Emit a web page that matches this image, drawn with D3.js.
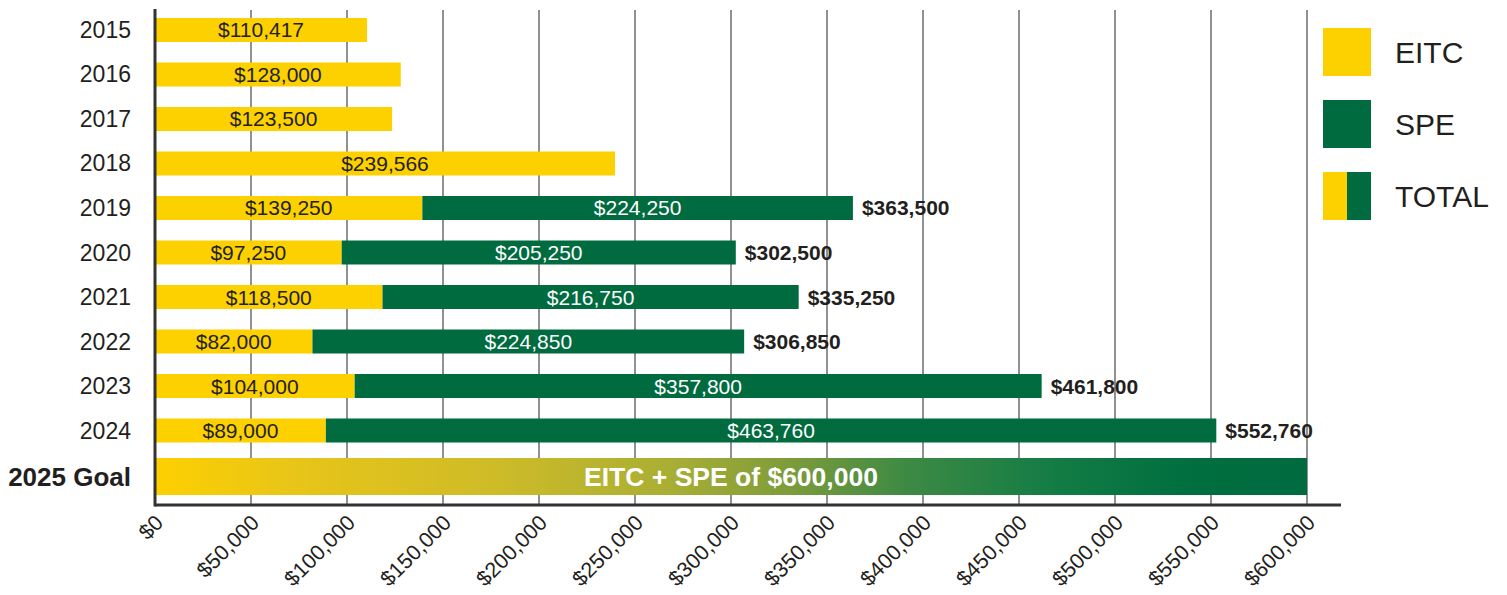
<!DOCTYPE html>
<html>
<head>
<meta charset="utf-8">
<script src="https://cdn.jsdelivr.net/npm/d3@7"></script>
<style>
  body { margin: 0; background: #fff; }
  svg { font-family: "Liberation Sans", Arial, Helvetica, sans-serif; }
</style>
</head>
<body>
<svg id="chart" width="1507" height="595"></svg>
<script>
// data
const years = ['2015', '2016', '2017', '2018', '2019', '2020', '2021', '2022', '2023', '2024'];
const eitc = [110417, 128000, 123500, 239566, 139250, 97250, 118500, 82000, 104000, 89000];
const spe = [0, 0, 0, 0, 224250, 205250, 216750, 224850, 357800, 463760];
const goalLabel = '2025 Goal';
const goalValue = 600000;
const goalText = 'EITC + SPE of $600,000';
const tickValues = [0, 50000, 100000, 150000, 200000, 250000, 300000, 350000, 400000, 450000, 500000, 550000, 600000];
const legendItems = ['EITC', 'SPE', 'TOTAL'];

const YELLOW = '#FDD000';
const GREEN = '#006B3F';
const INK = '#231f20';

const svg = d3.select('#chart');
const fmt = (v) => '$' + d3.format(',')(v);

const x = d3.scaleLinear().domain([0, 600000]).range([155, 1307]);
// 10 bars, 24px tall, 44.5px apart
const y = d3.scaleBand().domain(years).range([18, 442.5]).paddingInner(0.4607).paddingOuter(0);

const rows = years.map((yr, i) => ({ year: yr, eitc: eitc[i], spe: spe[i], total: eitc[i] + spe[i] }));

// gradient for goal bar
const defs = svg.append('defs');
const grad = defs.append('linearGradient').attr('id', 'goalGrad').attr('x1', '0%').attr('x2', '100%');
[
  [0, '#FDD000'],
  [0.12, '#E8C518'],
  [0.3, '#CDBB28'],
  [0.45, '#A8AE34'],
  [0.55, '#7E9C3A'],
  [0.65, '#3E8A44'],
  [0.78, '#137C45'],
  [0.9, '#006E3F'],
  [1, '#006B3F']
].forEach(([o, c]) => grad.append('stop').attr('offset', o).attr('stop-color', c));

// gridlines
svg.append('g')
  .selectAll('line')
  .data(tickValues.slice(1))
  .enter()
  .append('line')
  .attr('x1', (d) => x(d))
  .attr('x2', (d) => x(d))
  .attr('y1', 10)
  .attr('y2', 505)
  .attr('stroke', '#555')
  .attr('stroke-width', 1.3);

const bars = svg.append('g');

bars.selectAll('rect.eitc')
  .data(rows)
  .enter()
  .append('rect')
  .attr('class', 'eitc')
  .attr('x', x(0))
  .attr('y', (d) => y(d.year))
  .attr('width', (d) => x(d.eitc) - x(0))
  .attr('height', y.bandwidth())
  .attr('fill', YELLOW);

bars.selectAll('rect.spe')
  .data(rows.filter((d) => d.spe > 0))
  .enter()
  .append('rect')
  .attr('class', 'spe')
  .attr('x', (d) => x(d.eitc))
  .attr('y', (d) => y(d.year))
  .attr('width', (d) => x(d.total) - x(d.eitc))
  .attr('height', y.bandwidth())
  .attr('fill', GREEN);

// goal bar
const goalY = 458;
const goalH = 37;
bars.append('rect')
  .attr('x', x(0))
  .attr('y', goalY)
  .attr('width', x(goalValue) - x(0))
  .attr('height', goalH)
  .attr('fill', 'url(#goalGrad)');

bars.append('text')
  .attr('x', (x(0) + x(goalValue)) / 2)
  .attr('y', goalY + goalH / 2 + 9)
  .attr('text-anchor', 'middle')
  .attr('fill', '#fff')
  .attr('font-size', 26.5)
  .attr('font-weight', 'bold')
  .text(goalText);

// value labels
const labels = svg.append('g').attr('font-size', 21);
const midY = (d) => y(d.year) + y.bandwidth() / 2 + 7.5;

labels.selectAll('text.el')
  .data(rows)
  .enter()
  .append('text')
  .attr('x', (d) => (x(0) + x(d.eitc)) / 2)
  .attr('y', midY)
  .attr('text-anchor', 'middle')
  .attr('fill', INK)
  .text((d) => fmt(d.eitc));

labels.selectAll('text.sl')
  .data(rows.filter((d) => d.spe > 0))
  .enter()
  .append('text')
  .attr('x', (d) => (x(d.eitc) + x(d.total)) / 2)
  .attr('y', midY)
  .attr('text-anchor', 'middle')
  .attr('fill', '#fff')
  .text((d) => fmt(d.spe));

labels.selectAll('text.tl')
  .data(rows.filter((d) => d.spe > 0))
  .enter()
  .append('text')
  .attr('x', (d) => x(d.total) + 9)
  .attr('y', midY)
  .attr('font-weight', 'bold')
  .attr('fill', INK)
  .text((d) => fmt(d.total));

// year labels
svg.append('g')
  .selectAll('text')
  .data(years)
  .enter()
  .append('text')
  .attr('x', 131)
  .attr('y', (d) => y(d) + y.bandwidth() / 2 + 8)
  .attr('text-anchor', 'end')
  .attr('font-size', 23)
  .attr('fill', INK)
  .text((d) => d);

svg.append('text')
  .attr('x', 131)
  .attr('y', goalY + goalH / 2 + 9)
  .attr('text-anchor', 'end')
  .attr('font-size', 26)
  .attr('font-weight', 'bold')
  .attr('fill', INK)
  .text(goalLabel);

// axes
const xAxis = svg.append('g')
  .attr('transform', 'translate(0,505)')
  .call(d3.axisBottom(x).tickValues(tickValues).tickSize(0).tickFormat((d) => fmt(d)));
xAxis.select('.domain').remove();
xAxis.selectAll('text')
  .attr('font-size', 21.5)
  .attr('font-family', '"Liberation Sans", Arial, sans-serif')
  .attr('fill', INK)
  .attr('text-anchor', 'end')
  .attr('dy', null)
  .attr('y', 0)
  .attr('transform', 'translate(9,19) rotate(-45)');

svg.append('line')
  .attr('x1', x(0)).attr('x2', 1341)
  .attr('y1', 505).attr('y2', 505)
  .attr('stroke', '#333').attr('stroke-width', 3);
svg.append('line')
  .attr('x1', x(0)).attr('x2', x(0))
  .attr('y1', 9).attr('y2', 506.5)
  .attr('stroke', '#333').attr('stroke-width', 3);

// legend
const legend = svg.append('g').attr('transform', 'translate(1323,28)');
const item = legend.selectAll('g')
  .data(legendItems)
  .enter()
  .append('g')
  .attr('transform', (d, i) => `translate(0,${i * 72})`);

item.append('rect')
  .attr('width', 48).attr('height', 48)
  .attr('fill', (d, i) => (i === 1 ? GREEN : YELLOW));
item.filter((d, i) => i === 2)
  .append('rect')
  .attr('x', 24).attr('width', 24).attr('height', 48)
  .attr('fill', GREEN);
item.append('text')
  .attr('x', 72)
  .attr('y', 35)
  .attr('font-size', 30)
  .attr('fill', INK)
  .text((d) => d);
</script>
</body>
</html>
